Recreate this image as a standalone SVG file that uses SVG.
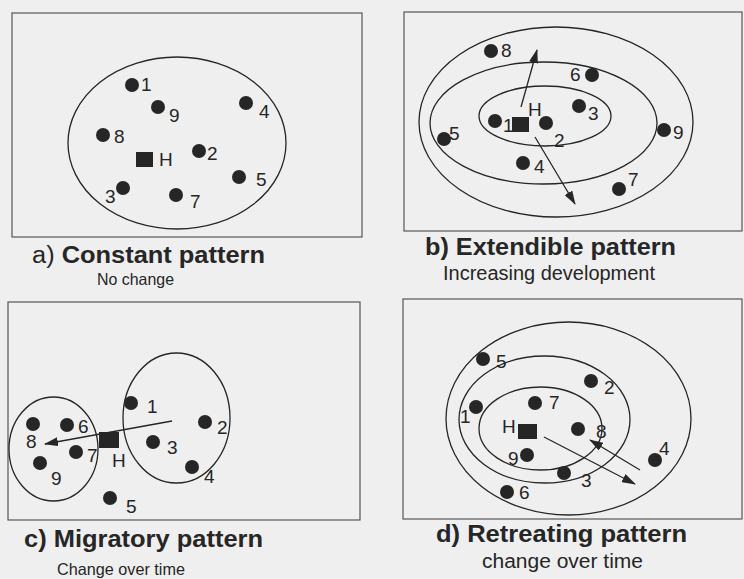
<svg xmlns="http://www.w3.org/2000/svg" width="744" height="579" viewBox="0 0 744 579">
  <style>
    .frame { fill: none; stroke: #555; stroke-width: 1.2; }
    .ring { fill: none; stroke: #262626; stroke-width: 1.3; }
    .pt { fill: #262626; }
    .home { fill: #262626; }
    .num { font-family: "Liberation Sans", Arial, sans-serif; font-size: 19px; fill: #262626; }
    .title { font-family: "Liberation Sans", Arial, sans-serif; font-size: 23px; font-weight: bold; fill: #262626; }
    .sub { font-family: "Liberation Sans", Arial, sans-serif; font-size: 16.5px; fill: #262626; }
    .sub-lg { font-family: "Liberation Sans", Arial, sans-serif; font-size: 20px; fill: #262626; }
    .arrow { fill: none; stroke: #262626; stroke-width: 1.3; marker-end: url(#head); }
  </style>
  <defs>
    <marker id="head" viewBox="0 0 14 9" refX="13" refY="4.5" markerWidth="14" markerHeight="9" markerUnits="userSpaceOnUse" orient="auto">
      <path d="M0,0 L14,4.5 L0,9 Z" fill="#262626"/>
    </marker>
  </defs>
  <rect width="744" height="579" fill="#efefef"/>

  <!-- a) Constant pattern -->
  <g id="panel-a">
    <rect class="frame" x="12" y="13" width="350" height="224"/>
    <ellipse class="ring" cx="177" cy="143" rx="109" ry="86"/>
    <g id="a-home"><rect class="home" x="136" y="152" width="17" height="15"/><text class="num" x="159" y="166">H</text></g>
    <g id="a-1"><circle class="pt" cx="132" cy="85" r="7"/><text class="num" x="141" y="91">1</text></g>
    <g id="a-9"><circle class="pt" cx="158" cy="107" r="7"/><text class="num" x="169" y="122">9</text></g>
    <g id="a-4"><circle class="pt" cx="246" cy="103" r="7"/><text class="num" x="259" y="118">4</text></g>
    <g id="a-8"><circle class="pt" cx="103" cy="135" r="7"/><text class="num" x="114" y="143">8</text></g>
    <g id="a-2"><circle class="pt" cx="199" cy="151" r="7"/><text class="num" x="207" y="160">2</text></g>
    <g id="a-5"><circle class="pt" cx="239" cy="177" r="7"/><text class="num" x="256" y="186">5</text></g>
    <g id="a-3"><circle class="pt" cx="123" cy="188" r="7"/><text class="num" x="105" y="203">3</text></g>
    <g id="a-7"><circle class="pt" cx="176" cy="195" r="7"/><text class="num" x="190" y="208">7</text></g>
    <text class="title" x="32" y="263" textLength="233" lengthAdjust="spacingAndGlyphs"><tspan font-weight="normal">a)</tspan> Constant pattern</text>
    <text class="sub" x="97" y="285" textLength="77" lengthAdjust="spacingAndGlyphs">No change</text>
  </g>

  <!-- b) Extendible pattern -->
  <g id="panel-b">
    <rect class="frame" x="404" y="12" width="338" height="219"/>
    <ellipse class="ring" cx="556" cy="122" rx="137" ry="95"/>
    <ellipse class="ring" cx="543.5" cy="123" rx="113.5" ry="61"/>
    <ellipse class="ring" cx="545" cy="116" rx="66" ry="30"/>
    <g id="b-home"><rect class="home" x="512" y="117" width="17" height="15"/><text class="num" x="528" y="116">H</text></g>
    <g id="b-8"><circle class="pt" cx="491" cy="51" r="7"/><text class="num" x="501" y="57">8</text></g>
    <g id="b-6"><circle class="pt" cx="592" cy="75" r="7"/><text class="num" x="570" y="81">6</text></g>
    <g id="b-3"><circle class="pt" cx="579" cy="106" r="7"/><text class="num" x="588" y="120">3</text></g>
    <g id="b-1"><circle class="pt" cx="495" cy="121" r="7"/><text class="num" x="503" y="132">1</text></g>
    <g id="b-2"><circle class="pt" cx="546" cy="123" r="7"/><text class="num" x="554" y="147">2</text></g>
    <g id="b-5"><circle class="pt" cx="444" cy="139" r="7"/><text class="num" x="449" y="140">5</text></g>
    <g id="b-9"><circle class="pt" cx="664" cy="130" r="7"/><text class="num" x="673" y="139">9</text></g>
    <g id="b-4"><circle class="pt" cx="523" cy="163" r="7"/><text class="num" x="534" y="173">4</text></g>
    <g id="b-7"><circle class="pt" cx="619" cy="189" r="7"/><text class="num" x="628" y="186">7</text></g>
    <text class="title" x="425" y="255" textLength="251" lengthAdjust="spacingAndGlyphs">b) Extendible pattern</text>
    <text class="sub-lg" x="443" y="280" textLength="212" lengthAdjust="spacingAndGlyphs">Increasing development</text>
  </g>

  <!-- c) Migratory pattern -->
  <g id="panel-c">
    <rect class="frame" x="8" y="302" width="352" height="218"/>
    <ellipse class="ring" cx="53.5" cy="449" rx="44.5" ry="52"/>
    <ellipse class="ring" cx="176.5" cy="418" rx="53.5" ry="65"/>
    <g id="c-home"><rect class="home" x="99" y="432" width="20" height="16"/><text class="num" x="112" y="467">H</text></g>
    <g id="c-1"><circle class="pt" cx="131" cy="403" r="7"/><text class="num" x="147" y="413">1</text></g>
    <g id="c-6"><circle class="pt" cx="67" cy="425" r="7"/><text class="num" x="78" y="433">6</text></g>
    <g id="c-2"><circle class="pt" cx="205" cy="422" r="7"/><text class="num" x="217" y="434">2</text></g>
    <g id="c-8"><circle class="pt" cx="33" cy="424" r="7"/><text class="num" x="26" y="448">8</text></g>
    <g id="c-3"><circle class="pt" cx="153" cy="442" r="7"/><text class="num" x="167" y="454">3</text></g>
    <g id="c-7"><circle class="pt" cx="76" cy="452" r="7"/><text class="num" x="87" y="462">7</text></g>
    <g id="c-9"><circle class="pt" cx="40" cy="463" r="7"/><text class="num" x="51" y="485">9</text></g>
    <g id="c-4"><circle class="pt" cx="192" cy="467" r="7"/><text class="num" x="204" y="483">4</text></g>
    <g id="c-5"><circle class="pt" cx="110" cy="498" r="7"/><text class="num" x="126" y="513">5</text></g>
    <text class="title" x="24" y="547" textLength="239" lengthAdjust="spacingAndGlyphs">c) Migratory pattern</text>
    <text class="sub" x="57" y="575" textLength="128" lengthAdjust="spacingAndGlyphs">Change over time</text>
  </g>

  <!-- d) Retreating pattern -->
  <g id="panel-d">
    <rect class="frame" x="403" y="299" width="339" height="220"/>
    <ellipse class="ring" cx="568.5" cy="418.5" rx="122.5" ry="96.5"/>
    <ellipse class="ring" cx="544.5" cy="419.5" rx="85.5" ry="63.5"/>
    <ellipse class="ring" cx="540.5" cy="428.5" rx="61.5" ry="41.5"/>
    <g id="d-home"><rect class="home" x="518" y="424" width="19" height="15"/><text class="num" x="502" y="433">H</text></g>
    <g id="d-5"><circle class="pt" cx="483" cy="359" r="7"/><text class="num" x="496" y="368">5</text></g>
    <g id="d-2"><circle class="pt" cx="591" cy="381" r="7"/><text class="num" x="604" y="394">2</text></g>
    <g id="d-1"><circle class="pt" cx="476" cy="407" r="7"/><text class="num" x="460" y="423">1</text></g>
    <g id="d-7"><circle class="pt" cx="535" cy="403" r="7"/><text class="num" x="549" y="409">7</text></g>
    <g id="d-8"><circle class="pt" cx="578" cy="429" r="7"/><text class="num" x="596" y="438">8</text></g>
    <g id="d-4"><circle class="pt" cx="655" cy="460" r="7"/><text class="num" x="659" y="455">4</text></g>
    <g id="d-9"><circle class="pt" cx="527" cy="455" r="7"/><text class="num" x="508" y="465">9</text></g>
    <g id="d-3"><circle class="pt" cx="564" cy="473" r="7"/><text class="num" x="581" y="487">3</text></g>
    <g id="d-6"><circle class="pt" cx="507" cy="492" r="7"/><text class="num" x="519" y="499">6</text></g>
    <text class="title" x="436" y="542" textLength="251" lengthAdjust="spacingAndGlyphs">d) Retreating pattern</text>
    <text class="sub-lg" x="482" y="568" textLength="161" lengthAdjust="spacingAndGlyphs">change over time</text>
  </g>

  <!-- movement arrows -->
  <g id="connectors">
    <line class="arrow" x1="521" y1="107" x2="537" y2="50"/>
    <line class="arrow" x1="535" y1="137" x2="575" y2="204"/>
    <line class="arrow" x1="172" y1="421" x2="45" y2="444"/>
    <line class="arrow" x1="544" y1="437" x2="635" y2="484"/>
    <line class="arrow" x1="640" y1="470" x2="590" y2="440"/>
  </g>
</svg>
